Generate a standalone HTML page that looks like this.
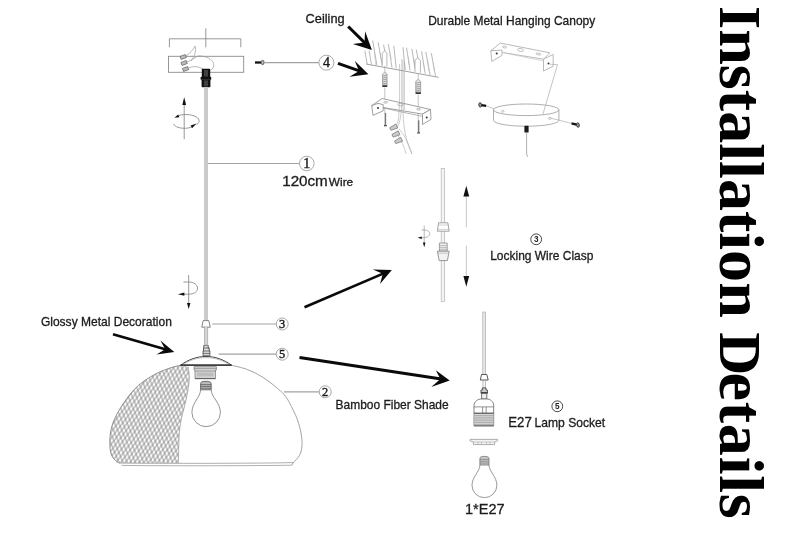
<!DOCTYPE html>
<html>
<head>
<meta charset="utf-8">
<title>Installation Details</title>
<style>
html,body{margin:0;padding:0;background:#fff;}
body{width:790px;height:538px;overflow:hidden;position:relative;}
svg{display:block;filter:blur(0.3px);}
#title{position:absolute;left:719.6px;top:6px;transform-origin:0 0;transform:rotate(90deg) scale(1.018,1) translate(0,-52px);white-space:nowrap;font-family:"Liberation Serif",serif;font-weight:bold;font-size:63px;line-height:63px;color:#000;filter:blur(0.3px);}
#title .w{display:inline-block;}
#title .w::first-letter{font-size:58.5px;}
#title .w2{margin-left:-1.5px;letter-spacing:0.7px;}
#title .w2::first-letter{letter-spacing:-2.7px;}
.lbl{font-family:"Liberation Sans",sans-serif;fill:#1c1c1c;stroke:#1c1c1c;stroke-width:0.3;}
.num{font-family:"Liberation Serif",serif;fill:#1a1a1a;stroke:#1a1a1a;stroke-width:0.4;text-anchor:middle;}
.ld{stroke:#a2a2a2;stroke-width:1.2;fill:none;}
.thin2{stroke:#aaa;stroke-width:0.7;fill:none;}
.cir2{stroke:#333;stroke-width:0.9;fill:none;}
.num2{font-family:"Liberation Sans",sans-serif;font-weight:bold;fill:#222;text-anchor:middle;}
.cir{stroke:#a0a0a0;stroke-width:0.9;fill:none;}
.ln{stroke:#8c8c8c;stroke-width:0.9;fill:none;}
.thin{stroke:#999;stroke-width:0.7;fill:none;}
.blk{stroke:#0a0a0a;fill:none;stroke-linecap:butt;stroke-linejoin:miter;}
</style>
</head>
<body>
<svg width="790" height="538" viewBox="0 0 790 538">
<defs>
<pattern id="meshA" width="3.7" height="10" patternUnits="userSpaceOnUse" patternTransform="rotate(37)">
<path d="M1 0V10" stroke="#707070" stroke-width="0.7" fill="none"/>
</pattern>
<pattern id="meshB" width="3.8" height="10" patternUnits="userSpaceOnUse" patternTransform="rotate(-23)">
<path d="M1 0V10" stroke="#707070" stroke-width="0.7" fill="none"/>
</pattern>
<clipPath id="meshclip">
<path d="M181.1 365.1C179.2 365.6 174.0 366.6 170.0 368.0C166.0 369.4 161.3 371.0 157.0 373.2C152.7 375.4 147.9 378.2 144.0 381.0C140.1 383.8 136.8 386.6 133.6 390.1C130.3 393.6 127.1 398.1 124.5 401.8C121.9 405.5 119.9 408.8 118.0 412.2C116.1 415.6 114.5 418.8 113.3 422.0C112.1 425.2 111.3 427.7 110.7 431.2C110.1 434.7 109.8 439.6 109.8 443.2C109.8 446.8 110.0 449.9 110.7 452.5C111.4 455.1 112.4 457.2 113.9 459.0C115.5 460.8 119.0 462.5 120.0 463.2L178.4 463C178.5 460.0 178.6 450.5 178.8 445.0C179.0 439.5 179.1 434.6 179.6 430.0C180.1 425.4 180.8 421.7 181.7 417.4C182.6 413.1 183.9 409.2 185.0 404.4C186.1 399.6 187.5 393.4 188.2 388.8C188.9 384.2 189.3 380.8 189.3 377.1C189.3 373.4 188.4 368.4 188.2 366.7Z"/>
</clipPath>
</defs>
<rect width="790" height="538" fill="#fff"/>

<!-- LABELS -->
<g id="labels">
<text class="lbl" x="305.6" y="22.9" font-size="12.2" textLength="39" lengthAdjust="spacingAndGlyphs">Ceiling</text>
<text class="lbl" x="428.2" y="24.6" font-size="12.2" textLength="167" lengthAdjust="spacingAndGlyphs">Durable Metal Hanging Canopy</text>
<text class="lbl" x="282.2" y="185.8" font-size="14" textLength="45.6" lengthAdjust="spacingAndGlyphs">120cm</text>
<text class="lbl" x="328.8" y="185.8" font-size="11" textLength="24.4" lengthAdjust="spacingAndGlyphs">Wire</text>
<text class="lbl" x="490.2" y="259.6" font-size="12.2" textLength="103.2" lengthAdjust="spacingAndGlyphs">Locking Wire Clasp</text>
<text class="lbl" x="40.9" y="326.2" font-size="12.2" textLength="131" lengthAdjust="spacingAndGlyphs">Glossy Metal Decoration</text>
<text class="lbl" x="335.5" y="409.4" font-size="12.2" textLength="113.2" lengthAdjust="spacingAndGlyphs">Bamboo Fiber Shade</text>
<text class="lbl" x="508.2" y="427.4" font-size="14.4" textLength="23.6" lengthAdjust="spacingAndGlyphs">E27</text>
<text class="lbl" x="534.6" y="427.4" font-size="12.2" textLength="70.6" lengthAdjust="spacingAndGlyphs">Lamp Socket</text>
<text class="lbl" x="465" y="514" font-size="14.6" textLength="39.6" lengthAdjust="spacingAndGlyphs">1*E27</text>
</g>

<!-- CIRCLED NUMBERS -->
<g id="nums">
<circle cx="306.8" cy="163.5" r="7.3" class="cir"/><text class="num" x="306.8" y="168.2" font-size="14">1</text>
<circle cx="326.4" cy="62.7" r="7.5" class="cir"/><text class="num" x="326.4" y="67.4" font-size="14">4</text>
<circle cx="282.2" cy="324" r="6" class="cir"/><text class="num" x="282.2" y="328.1" font-size="12.4">3</text>
<circle cx="282.2" cy="354.2" r="6" class="cir"/><text class="num" x="282.2" y="358.3" font-size="12.4">5</text>
<circle cx="325.2" cy="391.8" r="6" class="cir"/><text class="num" x="325.2" y="395.9" font-size="12.4">2</text>
<circle cx="536.2" cy="239.3" r="5.4" class="cir2"/><text class="num2" x="536.2" y="242.2" font-size="8.2">3</text>
<circle cx="557.3" cy="406.3" r="5.4" class="cir2"/><text class="num2" x="557.3" y="409.2" font-size="8.2">5</text>
</g>

<!-- BLACK ARROWS -->
<g id="arrows">
<path d="M348.2 26.5L365.3 43.4" stroke="#0a0a0a" stroke-width="3.0" fill="none"/><path d="M371.9 49.9L352.8 43.9L364.5 42.6L365.1 31.3Z" fill="#0a0a0a"/>
<path d="M338.0 63.4L360.0 71.2" stroke="#0a0a0a" stroke-width="3.0" fill="none"/><path d="M368.4 74.2L349.5 76.8L359.0 70.9L354.7 60.8Z" fill="#0a0a0a"/>
<path d="M113.0 334.2L166.1 349.5" stroke="#0a0a0a" stroke-width="2.6" fill="none"/><path d="M174.3 351.9L160.4 340.5L165.2 349.3L156.6 354.4Z" fill="#0a0a0a"/>
<path d="M304.5 307.2L383.7 273.4" stroke="#0a0a0a" stroke-width="2.6" fill="none"/><path d="M391.8 270.0L372.8 269.5L382.8 273.8L380.0 284.0Z" fill="#0a0a0a"/>
<path d="M299.5 357.6L441.3 379.1" stroke="#0a0a0a" stroke-width="3.0" fill="none"/><path d="M449.7 380.4L435.8 370.3L440.4 379.0L431.3 387.0Z" fill="#0a0a0a"/>
</g>

<!-- PENDANT LAMP (left) -->
<g id="pendant">
<!-- dimension bracket -->
<path class="ln" d="M169.4 47.3V38.8H240.8V47.3M205.8 28.3V47.3"/>
<!-- canopy -->
<rect class="ln" x="168.5" y="56.3" width="75.2" height="16"/>
<g fill="#bbb" stroke="#555" stroke-width="0.6">
<rect x="-2.8" y="-1.6" width="5.6" height="3.2" transform="translate(183.2 57) rotate(-20)"/>
<rect x="-2.8" y="-1.6" width="5.6" height="3.2" transform="translate(184.1 63) rotate(-20)"/>
<rect x="-2.8" y="-1.6" width="5.6" height="3.2" transform="translate(185.6 69) rotate(-20)"/>
</g>
<path class="thin" d="M186 56C190 53 193 50 195 46C196.5 50 195 56 191 61M187 62C192 60 195 57.5 198 56C204 55.5 210 58 213 62C215 66 213 69 210.5 70M188.5 68C193 66 198 66 203 69"/>
<!-- connector -->
<rect x="201.8" y="68.8" width="8.4" height="8.6" rx="0.8" fill="#111"/>
<rect x="200.6" y="76.8" width="10.6" height="3" rx="0.6" fill="#111"/>
<rect x="201.6" y="79.4" width="8.8" height="7.8" rx="0.8" fill="#111"/>
<path d="M205 70V76.5M207 70V76.5M205 80.4V86.4M207 80.4V86.4" stroke="#999" stroke-width="0.7"/>
<!-- wire -->
<rect x="204" y="87" width="4" height="233.6" fill="#cbcbcb"/>
<path class="ld" d="M208 163.5H299.5"/>
<!-- screw + line to 4 -->
<path d="M255 62.5H261.2" stroke="#111" stroke-width="2.3"/>
<ellipse cx="262.6" cy="62.5" rx="1.5" ry="2.2" fill="#bbb" stroke="#333" stroke-width="0.7"/>
<path class="ld" d="M264.2 62.7H318.8"/>
<!-- rotate icon top -->
<path class="ln" d="M184.2 104V139.2"/>
<path d="M184.2 97.2L182.3 104.9H186.1Z" fill="#111"/>
<path class="ln" d="M178.6 115.6C182 114.2 190 114 194.5 116C200 118.4 200.5 122 196.5 124.8M173.6 124C175 127 180 128.4 185.5 128.3C188 128.2 190 127.6 191.5 127"/>
<path d="M174.4 117.8L178.2 114.4L179.4 117.2Z" fill="#111"/>
<path d="M196.6 123.6L190.6 125.4L192 128.2Z" fill="#111"/>
<!-- rotate icon lower -->
<path class="ln" d="M188.7 275V304"/>
<path d="M188.7 309L187 303H190.4Z" fill="#111"/>
<path class="ln" d="M183.5 282H188.7C200 282 201 294.2 188.7 294.2H184"/>
<path d="M177.9 294.2L184.4 292.6V295.8Z" fill="#111"/>
<!-- clasp -->
<path d="M203.2 320.6H208.8L210.3 327.2H201.8Z" fill="#fff" stroke="#777" stroke-width="0.9"/>
<path class="ld" d="M212.3 324H276.2"/>
<!-- lower wire -->
<rect x="204.5" y="326.6" width="3.1" height="18" fill="#d4d4d4"/>
<path d="M204.5 326.6V344M207.6 326.6V344" stroke="#999" stroke-width="0.6"/>
<!-- top nut above cap -->
<path d="M203.8 345.2H208.2V348H209.2V351H209.9V355.8H203V351H203.5V348H203.8Z" fill="#ddd" stroke="#444" stroke-width="0.8"/>
<path d="M203.5 348H209.2M203 351H209.9M203 353.4H209.9" stroke="#444" stroke-width="0.7" fill="none"/>
<path class="ld" d="M218.6 354.2H276.2"/>
<!-- shade -->
<g clip-path="url(#meshclip)"><rect x="100" y="360" width="100" height="110" fill="url(#meshA)"/><rect x="100" y="360" width="100" height="110" fill="url(#meshB)"/></g>
<path d="M181.1 365.1C179.2 365.6 174.0 366.6 170.0 368.0C166.0 369.4 161.3 371.0 157.0 373.2C152.7 375.4 147.9 378.2 144.0 381.0C140.1 383.8 136.8 386.6 133.6 390.1C130.3 393.6 127.1 398.1 124.5 401.8C121.9 405.5 119.9 408.8 118.0 412.2C116.1 415.6 114.5 418.8 113.3 422.0C112.1 425.2 111.3 427.7 110.7 431.2C110.1 434.7 109.8 439.6 109.8 443.2C109.8 446.8 110.0 449.9 110.7 452.5C111.4 455.1 112.4 457.2 113.9 459.0C115.5 460.8 119.0 462.5 120.0 463.2" stroke="#888" stroke-width="0.9" fill="none"/>
<path d="M188.2 366.7C188.4 368.4 189.3 373.4 189.3 377.1C189.3 380.8 188.9 384.2 188.2 388.8C187.5 393.4 186.1 399.6 185.0 404.4C183.9 409.2 182.6 413.1 181.7 417.4C180.8 421.7 180.1 425.4 179.6 430.0C179.1 434.6 179.0 439.5 178.8 445.0C178.6 450.5 178.5 460.0 178.4 463.0" stroke="#999" stroke-width="0.7" fill="none"/>
<path d="M230.6 365.0C233.4 365.8 241.9 367.4 247.3 369.5C252.7 371.6 258.1 374.3 262.9 377.3C267.7 380.3 272.7 384.4 276.2 387.3C279.7 390.2 281.8 391.9 284.0 394.5C286.2 397.1 287.4 398.7 289.6 402.9C291.8 407.1 295.4 414.2 297.4 419.6C299.4 425.0 300.6 430.8 301.4 435.2C302.1 439.6 302.2 443.0 301.9 446.3C301.6 449.6 301.1 452.4 299.6 455.2C298.1 458.0 294.1 461.7 293.0 463.0" stroke="#999" stroke-width="0.9" fill="none"/>
<path d="M116 461.6C118 462.4 119 462.8 120 463C160 463.6 260 463.4 293 462.6M121.5 465.4C160 466 260 465.8 292 465.2L293 462.6" stroke="#999" stroke-width="0.8" fill="none"/>
<!-- cap (metal decoration) -->
<path d="M180.8 365.1C188 359.6 197 356.5 206 356.4C215 356.5 224 359.6 231.3 365.1Z" fill="#fff" stroke="#333" stroke-width="0.9"/>
<path d="M184 364C191 359.6 198 357.6 206 357.6C214 357.6 221 359.6 228 364" fill="none" stroke="#999" stroke-width="0.6"/>
<path d="M180.4 365.2H231.7" stroke="#222" stroke-width="1.3"/>
<!-- socket under cap -->
<path d="M194.1 366.6H216.4V370H215.5V378.6H195V370H194.1Z" fill="#d4d4d4" stroke="#777" stroke-width="0.7"/>
<path d="M194.1 368.4H216.4M195 371H215.5" stroke="#777" stroke-width="0.6" fill="none"/>
<path d="M197 372.6H213.5V376.4H197Z" fill="#bdbdbd"/>
<path d="M195 378.6H215.5" stroke="#555" stroke-width="0.9"/>
<!-- bulb -->
<path d="M200.6 383.6C200.6 381.8 202.6 381.3 205.9 381.3C209.2 381.3 211.2 381.8 211.2 383.6V389.8H200.6Z" fill="#bbb" stroke="#555" stroke-width="0.8"/>
<path d="M200.6 384.6H211.2M200.6 386.4H211.2M200.6 388.2H211.2" stroke="#555" stroke-width="0.7" fill="none"/>
<path d="M200.6 389.8C200.6 397 192 402.5 191.9 412.4A14.2 14.2 0 0 0 220.4 412.4C220.3 402.5 211.2 397 211.2 389.8" stroke="#888" stroke-width="0.9" fill="none"/>
<path class="ld" d="M284 391.8H319.2"/>
</g>

<!-- CEILING + BRACKET (middle top) -->
<g id="ceiling">
<path d="M364.8 50.7L367.2 64.0M369.1 50.7L371.5 64.6M372.7 40.4L376.9 65.2M378.1 42.2L382.3 65.8M383.6 44.7L384.8 51.3M388.4 44.1L392.0 67.6M393.8 45.9L396.2 68.2M402.9 47.1L405.3 70.0M406.5 47.7L410.1 70.6M411.9 48.9L415.6 71.8M416.2 49.5L418.0 58.6M421.6 51.3L425.2 73.6M425.8 51.9L430.0 74.9M431.3 53.1L435.5 76.1" stroke="#999" stroke-width="0.7" fill="none"/>
<path d="M374.5 53.1L375.7 65.0M379.9 51.9L380.8 59.2M390.2 53.1L391.2 59.2M408.3 56.7L409.3 65.2M413.7 57.9L414.6 65.2M423.4 61.6L424.0 67.6M427.6 59.2L428.8 71.2M433.1 62.8L434.3 71.2" stroke="#bbb" stroke-width="0.6" fill="none"/>
<path d="M366 64L438.5 77.3" stroke="#888" stroke-width="0.8" fill="none"/>
<!-- holes -->
<path d="M382.3 65.8V53.2L384.6 50.7L386.9 53.2V66.6M415 71.8V60.4L417.7 58L420.4 60.4V72.8" stroke="#999" stroke-width="0.7" fill="#fff"/>
<!-- anchors -->
<g fill="#e2e2e2" stroke="#888" stroke-width="0.6">
<path d="M382.5 74.2L384.8 71.8L387.1 74.2V85H382.5Z"/>
<path d="M415.7 81.4L418.2 79L420.7 81.4V92H415.7Z"/>
</g>
<path d="M382.5 76L387.1 75M382.5 78L387.1 77M382.5 80L387.1 79M382.5 82L387.1 81M382.5 84L387.1 83M415.7 83.2L420.7 82.2M415.7 85.2L420.7 84.2M415.7 87.2L420.7 86.2M415.7 89.2L420.7 88.2M415.7 91L420.7 90" stroke="#777" stroke-width="0.6"/>
<path d="M382.3 86.2H387.3M415.5 93.2H420.9" stroke="#333" stroke-width="1.8"/>
<path class="thin2" d="M384.8 66V71.8M384.8 87.5V113.5M418.2 73V79M418.2 94.5V120"/>
<!-- bracket -->
<path d="M371.7 105.6L382.1 98.5L430.5 109.5L422.5 114.1Z" fill="#fff" stroke="#888" stroke-width="0.8"/>
<path d="M371.7 105.6L378 103.4L383.2 104.6V110.8L373 115.4Z" fill="#fff" stroke="#888" stroke-width="0.8"/>
<path d="M422.5 114.1L430.5 109.5L431 119.3L422.5 124.5Z" fill="#fff" stroke="#888" stroke-width="0.8"/>
<path class="thin" d="M383.2 108L422.5 116.4"/>
<ellipse cx="385.6" cy="102.3" rx="1.9" ry="0.9" class="thin"/><ellipse cx="400.5" cy="104.6" rx="2.6" ry="1.2" class="thin"/><ellipse cx="418.6" cy="109.2" rx="1.9" ry="0.9" class="thin"/>
<circle cx="378" cy="108" r="1" fill="#333"/><circle cx="426.7" cy="117.6" r="1" fill="#333"/>
<!-- screws -->
<path d="M385.4 113V125.4M418.6 120.3V132.6" stroke="#777" stroke-width="1.5"/>
<path d="M384 125.6H386.8M417.2 132.8H420" stroke="#444" stroke-width="1.2"/>
<!-- wires -->
<path d="M401.8 59V100C401.6 115 400 122 397.5 127M403 60V105C403 125 405 140 412 154M399.6 64V98C399.2 110 399 120 397 124M404.4 62V110M399 129C404 134 408 142 412 153.8M398 136C401 140 404 146 406.2 153.8" stroke="#aaa" stroke-width="0.6" fill="none"/>
<g fill="#ccc" stroke="#666" stroke-width="0.6">
<path d="M-3.6 -1.4L3.6 -2.2V2.2L-3.6 1.4Z" transform="translate(393.6 127.5) rotate(-25)"/>
<path d="M-3.6 -1.4L3.6 -2.2V2.2L-3.6 1.4Z" transform="translate(395.8 134.3) rotate(-25)"/>
<path d="M-3.6 -1.4L3.6 -2.2V2.2L-3.6 1.4Z" transform="translate(398.4 140.8) rotate(-25)"/>
</g>
</g>

<!-- CANOPY exploded (right top) -->
<g id="canopy">
<g stroke="#a8a8a8" stroke-width="0.8" fill="#fff">
<path d="M490.8 50.6L500.4 43.1L549.9 52.8L543.5 59.2Z"/>
<path d="M490.8 50.8L502 50.1V55.4L491.8 61.4Z"/>
<path d="M543.5 59.2L553.2 54.4V66.2L543.5 71Z"/>
</g>
<path d="M502 52.4L543.5 61" stroke="#c4c4c4" stroke-width="0.7" fill="none"/>
<ellipse cx="504.5" cy="47" rx="2" ry="0.9" fill="none" stroke="#aaa" stroke-width="0.7" transform="rotate(11 504.5 47)"/>
<ellipse cx="520.6" cy="50" rx="3" ry="1.5" fill="none" stroke="#aaa" stroke-width="0.7" transform="rotate(11 520.6 50)"/>
<ellipse cx="538.5" cy="54" rx="2.4" ry="0.9" fill="none" stroke="#aaa" stroke-width="0.7" transform="rotate(11 538.5 54)"/>
<circle cx="496.7" cy="53.5" r="1" fill="#333"/><circle cx="548.5" cy="63.5" r="1" fill="#333"/>
<path d="M550 64.2L557.5 64.6L542.9 114.3" stroke="#aaa" stroke-width="0.7" fill="none"/>
<path d="M493.5 109.8V120.2C493.5 123.6 508 126.2 526.2 126.2C544.4 126.2 558.9 123.6 558.9 120.2V109.8" stroke="#999" stroke-width="0.8" fill="none"/>
<ellipse cx="526.2" cy="109.8" rx="32.7" ry="5.8" stroke="#999" stroke-width="0.8" fill="none"/>
<ellipse cx="502.7" cy="111.3" rx="1.3" ry="0.9" class="thin2"/><ellipse cx="549.8" cy="118.4" rx="1.4" ry="1" class="thin2"/>
<!-- screws -->
<path d="M481.2 105.1L486.2 105.8" stroke="#111" stroke-width="2.2"/>
<ellipse cx="480.2" cy="104.9" rx="1.4" ry="2.2" fill="#999" stroke="#222" stroke-width="0.8" transform="rotate(-8 480.2 104.9)"/>
<path d="M486.2 105.8L494.3 109" stroke="#aaa" stroke-width="0.7"/>
<path d="M571.5 123.4L576.5 124.6" stroke="#111" stroke-width="2.2"/>
<ellipse cx="577.9" cy="125" rx="1.4" ry="2.3" fill="#999" stroke="#222" stroke-width="0.8" transform="rotate(-12 577.9 125)"/>
<path d="M550.5 118.1L571.5 123.4" stroke="#aaa" stroke-width="0.7"/>
<!-- bottom connector -->
<rect x="524.4" y="125.8" width="4.2" height="6.8" rx="0.6" fill="#1a1a1a"/>
<path d="M526.6 132.6V154L527.6 156.8" stroke="#999" stroke-width="0.8" fill="none"/>
</g>

<!-- LOCKING CLASP (middle) -->
<g id="clasp">
<rect x="441.2" y="168.4" width="3.4" height="133.2" fill="#f4f4f4" stroke="#b4b4b4" stroke-width="0.7"/>
<path d="M438.6 222.8H447.8L449.2 231.2H437.3Z" fill="#fff" stroke="#8c8c8c" stroke-width="0.8"/>
<path d="M438.2 225H448.2M437.6 229.4H449" stroke="#b0b0b0" stroke-width="0.6" fill="none"/>
<path d="M439.4 243H447.2V251.2H439.4Z" fill="#eee" stroke="#8c8c8c" stroke-width="0.8"/>
<path d="M439.4 245.6H447.2M439.4 247.6H447.2M439.4 249.4H447.2" stroke="#999" stroke-width="0.6" fill="none"/>
<path d="M437.3 251.2H449.2L447.4 260.6H439.2Z" fill="#f2f2f2" stroke="#808080" stroke-width="0.8"/>
<path d="M437.8 253.2H448.8" stroke="#aaa" stroke-width="0.6"/>
<path d="M466.3 196V227.3M466.3 245.7V276.5" stroke="#b8b8b8" stroke-width="0.8" fill="none"/>
<path d="M466.3 185.7L463.4 196.4H469.2Z" fill="#111"/>
<path d="M466.3 286.7L463.4 276H469.2Z" fill="#111"/>
<!-- small rotate -->
<path class="thin" d="M424.2 225.6V243.4"/>
<path d="M424.2 247.3L422.9 242.6H425.5Z" fill="#111"/>
<path class="thin" d="M421.4 230H424.2C431.4 230 431.8 237.6 424.2 237.6H421.5"/>
<path d="M417.6 237.8L421.8 236.5V239.1Z" fill="#111"/>
</g>

<!-- SOCKET exploded (bottom right) -->
<g id="socket">
<rect x="482.8" y="312" width="2.6" height="62.7" fill="#e6e6e6" stroke="#a0a0a0" stroke-width="0.6"/>
<path d="M481.6 374.5H486.8L488.2 380H480.3Z" fill="#fff" stroke="#444" stroke-width="0.9"/>
<path d="M483 380V388M485.4 380V388" stroke="#999" stroke-width="0.7" fill="none"/>
<path d="M482.4 387.9H486V390H487.4V393.4H481V390H482.4Z" fill="#ccc" stroke="#444" stroke-width="0.9"/>
<path d="M481 392.6H487.4" stroke="#333" stroke-width="1"/>
<path d="M481.6 393.4H486.8V399H481.6Z" fill="#eee" stroke="#555" stroke-width="0.8"/>
<path d="M474 425.8V406C474 401 478 399 481.6 399H486.8C490 399 493.7 401 493.7 406V425.8Z" fill="#fff" stroke="#666" stroke-width="0.8"/>
<rect x="474.4" y="413.4" width="18.9" height="12.2" fill="#dcdcdc"/>
<path d="M474 406.9H493.7M482.6 406.9V413.2M486.1 406.9V413.2" stroke="#666" stroke-width="0.7" fill="none"/>
<path d="M474 413.2H493.7" stroke="#444" stroke-width="1.1"/>
<path d="M474 415.4H493.7M474 417.2H493.7M474 419H493.7M474 420.8H493.7M474 422.6H493.7M474 424.4H493.7" stroke="#8a8a8a" stroke-width="0.6"/>
<path d="M474 425.8H493.7" stroke="#555" stroke-width="0.9"/>
<!-- ring -->
<path d="M470 439.4H497.7V440.8L494.6 442V444.6H473.4V442L470 440.8Z" fill="#f4f4f4" stroke="#999" stroke-width="0.8"/>
<path d="M473.4 442H494.6M478 442V444.6M481.5 442V444.6M486.5 442V444.6M490 442V444.6" stroke="#aaa" stroke-width="0.6" fill="none"/>
<!-- bulb -->
<path d="M479.9 458.4C479.9 456.8 481.5 456.4 484.4 456.4C487.5 456.4 489 456.8 489 458.4V465H479.9Z" fill="#c4c4c4" stroke="#777" stroke-width="0.8"/>
<path d="M479.9 459.5H489M479.9 461.3H489M479.9 463.1H489" stroke="#777" stroke-width="0.6"/>
<path d="M479.9 465C479.9 471.5 472.2 476.5 472 485.2A12.4 12.4 0 0 0 496.9 485.2C496.7 476.5 489 471.5 489 465" stroke="#8c8c8c" stroke-width="0.9" fill="none"/>
</g>
</svg>
<div id="title"><span class="w w1">Installation</span> <span class="w w2">Details</span></div>
</body>
</html>
